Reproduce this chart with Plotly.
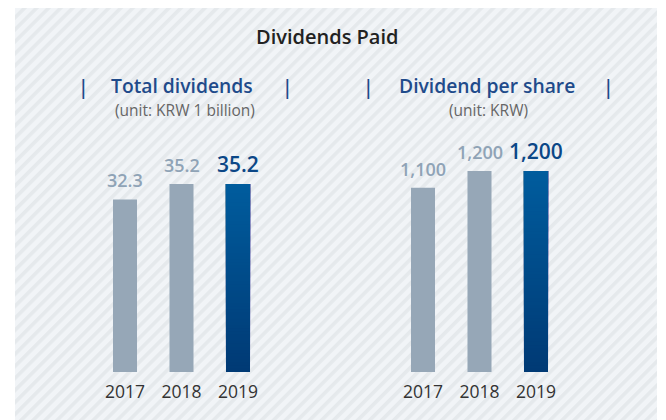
import base64
import plotly.graph_objects as go

# ---- data ----
years = ["2017", "2018", "2019"]
total_dividends = [32.3, 35.2, 35.2]          # KRW 1 billion
dividend_per_share = [1100, 1200, 1200]       # KRW
total_labels = ["32.3", "35.2", "35.2"]
dps_labels = ["1,100", "1,200", "1,200"]

# page body has an 8px margin -> figure is drawn 8px right/down
OFF = 8
W, H = 666 - OFF, 420 - OFF
FONT = "Open Sans"
GRAY = "#96a7b7"
GRAY_TXT = "#8fa3b6"
BLUE_TXT = "#0b4787"
HEAD_BLUE = "#1f4b8b"
GRAD_BOTTOM = (0, 58, 117)
GRAD_TOP = (0, 92, 157)
N_SEG = 60

def px_x(p):
    return (p - OFF) / W

def px_y(p):
    return 1 - (p - OFF) / H

fig = go.Figure()

def lerp(c0, c1, t):
    return "rgb(%d,%d,%d)" % tuple(round(a + (b - a) * t) for a, b in zip(c0, c1))

def add_panel(values, labels, xa, ya):
    fig.add_trace(go.Bar(
        x=years[:-1], y=values[:-1], width=0.425,
        marker=dict(color=GRAY, line=dict(width=0)),
        xaxis=xa, yaxis=ya, hoverinfo="skip", showlegend=False))
    # latest year: vertical gradient built from overlapping slices that all end at the value
    v = values[-1]
    step = v / N_SEG
    cols = [lerp(GRAD_BOTTOM, GRAD_TOP, k / (N_SEG - 1)) for k in range(N_SEG)]
    fig.add_trace(go.Bar(
        x=[years[-1]] * N_SEG, y=[v - k * step for k in range(N_SEG)],
        base=[k * step for k in range(N_SEG)], width=0.425,
        marker=dict(color=cols, line=dict(width=0)),
        xaxis=xa, yaxis=ya, hoverinfo="skip", showlegend=False))
    for i, (val, lab) in enumerate(zip(values, labels)):
        last = i == len(values) - 1
        fig.add_annotation(
            x=i, y=val, xref=xa, yref=ya, text=lab,
            showarrow=False, yanchor="bottom", yshift=4 if last else 5,
            font=dict(family=FONT, size=21 if last else 18, weight=600,
                      color=BLUE_TXT if last else GRAY_TXT))

add_panel(total_dividends, total_labels, "x", "y")
add_panel(dividend_per_share, dps_labels, "x2", "y2")

axis_x = dict(type="category", range=[-0.5, 2.5], showgrid=False, zeroline=False,
              showline=False, ticks="", ticklabelstandoff=7,
              tickfont=dict(family=FONT, size=17.5, color="#333333"), fixedrange=True)
axis_y = dict(showticklabels=False, showgrid=False, zeroline=False, showline=False,
              ticks="", fixedrange=True)

fig.update_layout(
    width=W, height=H,
    margin=dict(l=0, r=0, t=0, b=0),
    paper_bgcolor="white", plot_bgcolor="rgba(0,0,0,0)",
    barmode="overlay",
    xaxis=dict(axis_x, domain=[px_x(96.75), px_x(266.25)], anchor="y"),
    yaxis=dict(axis_y, domain=[px_y(372), px_y(184)], range=[0, total_dividends[-1]], anchor="x"),
    xaxis2=dict(axis_x, domain=[px_x(394.75), px_x(564.25)], anchor="y2"),
    yaxis2=dict(axis_y, domain=[px_y(372), px_y(171)], range=[0, dividend_per_share[-1]], anchor="x2"),
    showlegend=False,
)

# striped background panel (ref x 15..657, y 3..420)
pw, ph = 657 - 15, 420 - 3
svg = f'''<svg xmlns="http://www.w3.org/2000/svg" width="{pw}" height="{ph}" viewBox="0 0 {pw} {ph}">
<defs><pattern id="p" patternUnits="userSpaceOnUse" width="8.5" height="8.5" patternTransform="rotate(45)">
<rect width="8.5" height="8.5" fill="#f1f4f7"/><rect width="3.6" height="8.5" fill="#e5e9ec"/></pattern></defs>
<rect width="{pw}" height="{ph}" fill="url(#p)"/></svg>'''
src = "data:image/svg+xml;base64," + base64.b64encode(svg.encode()).decode()
fig.add_layout_image(dict(source=src, xref="paper", yref="paper", x=px_x(15), y=px_y(3),
                          sizex=pw / W, sizey=ph / H, sizing="stretch", xanchor="left",
                          yanchor="top", layer="below"))

def txt(x, y, text, size, color, weight=400):
    fig.add_annotation(x=px_x(x), y=px_y(y), xref="paper", yref="paper",
                       text=text, showarrow=False,
                       xanchor="center", yanchor="middle",
                       font=dict(family=FONT, size=size, color=color, weight=weight))

txt(326.5, 37, "Dividends Paid", 20, "#222222", 600)
txt(182, 85, "Total dividends", 19.3, HEAD_BLUE, 600)
txt(184.5, 110, "(unit: KRW 1 billion)", 15.5, "#666666")
txt(486.5, 85, "Dividend per share", 19.3, HEAD_BLUE, 600)
txt(488, 110, "(unit: KRW)", 15.5, "#666666")
for px in (83, 287, 368, 608):
    txt(px, 86, "|", 19.3, HEAD_BLUE, 600)

fig.write_html("out.html")
